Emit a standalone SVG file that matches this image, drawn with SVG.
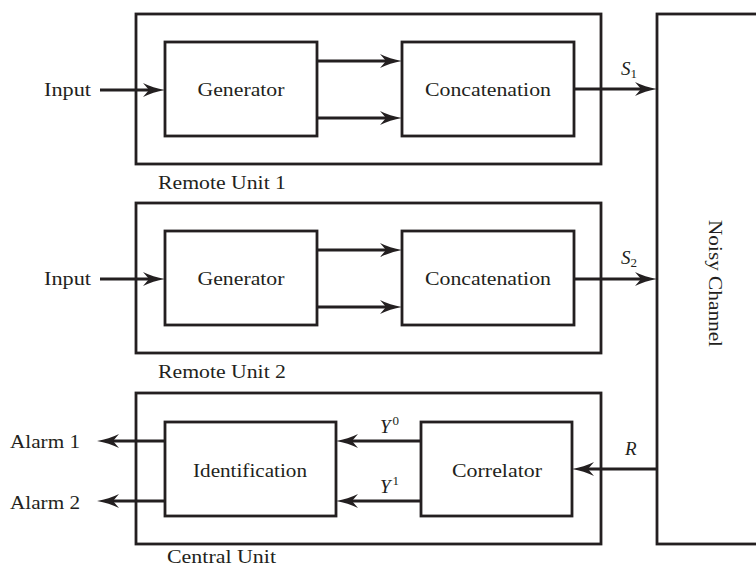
<svg xmlns="http://www.w3.org/2000/svg" width="756" height="569" viewBox="0 0 756 569">
<style>
.box{fill:none;stroke:#231f20;stroke-width:2.8}
.ln{fill:none;stroke:#231f20;stroke-width:2.8;marker-end:url(#arr)}
text{font-family:"Liberation Serif","DejaVu Serif",serif;font-size:19px;fill:#231f20}
.c{text-anchor:middle}
.it{font-style:italic}
.sub{font-size:13px;font-style:normal}
</style>
<defs>
<marker id="arr" markerUnits="userSpaceOnUse" viewBox="0 0 22 14" markerWidth="22" markerHeight="14" refX="12" refY="7" orient="auto">
<path d="M0,0 Q10,5 22,7 Q10,9 0,14 L6,7 Z" fill="#231f20"/>
</marker>
</defs>
<rect width="756" height="569" fill="#fff"/>

<g id="remote1">
<rect class="box" x="136" y="14" width="465" height="150"/>
<text x="158" y="189" textLength="128" lengthAdjust="spacingAndGlyphs">Remote Unit 1</text>
</g>
<g id="generator1">
<rect class="box" x="165" y="42" width="152" height="94"/>
<text class="c" x="241" y="96" textLength="87" lengthAdjust="spacingAndGlyphs">Generator</text>
</g>
<g id="concat1">
<rect class="box" x="402" y="42" width="172" height="94"/>
<text class="c" x="488" y="96" textLength="126" lengthAdjust="spacingAndGlyphs">Concatenation</text>
</g>

<g id="remote2">
<rect class="box" x="136" y="203" width="465" height="150"/>
<text x="158" y="378" textLength="128" lengthAdjust="spacingAndGlyphs">Remote Unit 2</text>
</g>
<g id="generator2">
<rect class="box" x="165" y="231" width="152" height="94"/>
<text class="c" x="241" y="285" textLength="87" lengthAdjust="spacingAndGlyphs">Generator</text>
</g>
<g id="concat2">
<rect class="box" x="402" y="231" width="172" height="94"/>
<text class="c" x="488" y="285" textLength="126" lengthAdjust="spacingAndGlyphs">Concatenation</text>
</g>

<g id="central">
<rect class="box" x="136" y="393" width="465" height="151"/>
<text x="167" y="563" textLength="109" lengthAdjust="spacingAndGlyphs">Central Unit</text>
</g>
<g id="identification">
<rect class="box" x="165" y="422" width="171" height="94"/>
<text class="c" x="250" y="477" textLength="114" lengthAdjust="spacingAndGlyphs">Identification</text>
</g>
<g id="correlator">
<rect class="box" x="421" y="422" width="151" height="94"/>
<text class="c" x="497" y="477" textLength="90" lengthAdjust="spacingAndGlyphs">Correlator</text>
</g>

<g id="channel">
<rect class="box" x="657" y="14" width="120" height="530"/>
<text class="c" transform="translate(709,283.5) rotate(90)" x="0" y="0" textLength="127" lengthAdjust="spacingAndGlyphs">Noisy Channel</text>
</g>

<g id="connectors">
<path class="ln" d="M100,90 H155"/>
<path class="ln" d="M317,61 H392"/>
<path class="ln" d="M317,118 H392"/>
<path class="ln" d="M574,89 H647"/>
<path class="ln" d="M100,279 H155"/>
<path class="ln" d="M317,250 H392"/>
<path class="ln" d="M317,307 H392"/>
<path class="ln" d="M574,279 H647"/>
<path class="ln" d="M657,469 H582"/>
<path class="ln" d="M421,441 H346"/>
<path class="ln" d="M421,501 H346"/>
<path class="ln" d="M165,441 H107"/>
<path class="ln" d="M165,501 H107"/>
</g>

<g id="labels">
<text x="44" y="96" textLength="47" lengthAdjust="spacingAndGlyphs">Input</text>
<text x="44" y="285" textLength="47" lengthAdjust="spacingAndGlyphs">Input</text>
<text x="10" y="448" textLength="70" lengthAdjust="spacingAndGlyphs">Alarm 1</text>
<text x="10" y="509" textLength="70" lengthAdjust="spacingAndGlyphs">Alarm 2</text>
<text x="621" y="75"><tspan class="it">S</tspan><tspan class="sub" dy="3">1</tspan></text>
<text x="621" y="264"><tspan class="it">S</tspan><tspan class="sub" dy="3">2</tspan></text>
<text class="it" x="625" y="455">R</text>
<text x="380" y="433"><tspan class="it">Y</tspan><tspan class="sub" dx="2" dy="-8">0</tspan></text>
<text x="380" y="493"><tspan class="it">Y</tspan><tspan class="sub" dx="2" dy="-8">1</tspan></text>
</g>
</svg>
